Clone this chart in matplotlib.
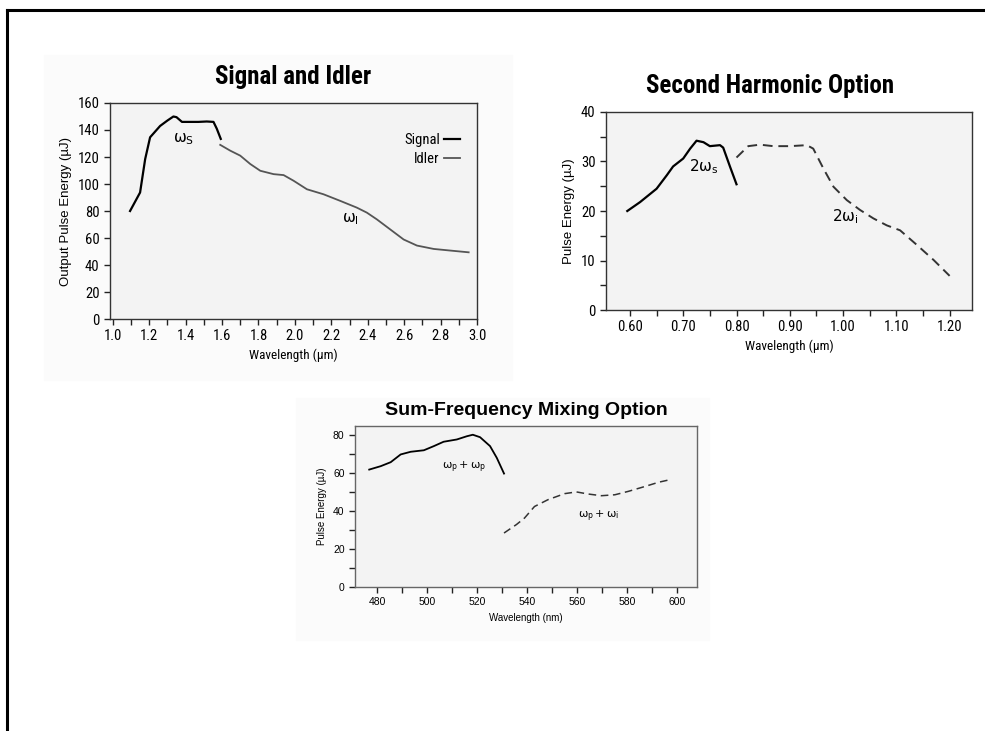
import numpy as np
import matplotlib
matplotlib.use("Agg")
import matplotlib.pyplot as plt
from matplotlib.lines import Line2D
from matplotlib.patches import Rectangle
from matplotlib.ticker import MultipleLocator, FormatStrFormatter
from matplotlib import font_manager

names = sorted({f.name for f in font_manager.fontManager.ttflist})
NARROW = [n for n in ['Liberation Sans Narrow', 'DejaVu Sans Condensed', 'Roboto Condensed',
                      'Open Sans Condensed', 'Liberation Sans'] if n in names][:1] + ['DejaVu Sans']
PLAIN = ['Liberation Sans', 'DejaVu Sans']
plt.rcParams['mathtext.default'] = 'regular'

# Signal and Idler (wavelength in um, energy in uJ)
signal_x = [1.095, 1.15, 1.178, 1.205, 1.26, 1.30, 1.333, 1.35, 1.38, 1.425, 1.47, 1.516, 1.553, 1.571, 1.593]
signal_y = [80, 93.7, 118.5, 134.6, 143, 147, 150, 149.5, 146, 146, 146, 146.3, 146, 141, 133.4]
idler_x = [1.59, 1.645, 1.70, 1.755, 1.81, 1.883, 1.938, 1.993, 2.066, 2.157, 2.249, 2.34, 2.395,
           2.45, 2.524, 2.597, 2.67, 2.762, 2.853, 2.954]
idler_y = [129, 124.7, 121, 114.8, 109.8, 107.3, 106.6, 102.4, 96.1, 92.4, 87.5, 82.5, 78.8,
           73.8, 66.3, 58.9, 54.4, 51.9, 50.7, 49.4]

# Second harmonic option
shg_s_x = [0.595, 0.619, 0.65, 0.669, 0.681, 0.70, 0.713, 0.725, 0.738, 0.75, 0.769, 0.775, 0.788, 0.80]
shg_s_y = [20.0, 21.8, 24.5, 27.2, 29.0, 30.6, 32.6, 34.2, 33.9, 33.1, 33.3, 32.8, 28.9, 25.4]
shg_i_x = [0.80, 0.822, 0.844, 0.869, 0.90, 0.932, 0.944, 0.963, 0.982, 1.007, 1.032, 1.057,
           1.082, 1.107, 1.139, 1.17, 1.20]
shg_i_y = [30.8, 33.1, 33.4, 33.1, 33.1, 33.3, 32.6, 28.6, 24.9, 22.2, 20.2, 18.5,
           17.1, 16.1, 13.1, 10.1, 6.9]

# Sum-frequency mixing option (wavelength in nm)
sfm_pp_x = [476.7, 481.3, 485.3, 489.3, 493.3, 498.6, 502.6, 506.5, 511.8, 515.8, 518.2, 521.1,
            525.1, 527.8, 530.7]
sfm_pp_y = [62.0, 63.8, 65.9, 70.0, 71.4, 72.2, 74.4, 76.7, 77.9, 79.6, 80.4, 79.1,
            74.4, 68.2, 59.9]
sfm_pi_x = [530.7, 535.7, 538.9, 542.9, 548.3, 555.0, 559.7, 564.4, 569.7, 575.1, 580.5,
            587.2, 592.6, 597.3]
sfm_pi_y = [28.5, 33.0, 36.4, 42.5, 46.1, 49.3, 50.2, 49.1, 48.2, 48.7, 50.5,
            53.1, 55.3, 56.7]

fig = plt.figure(figsize=(9.85, 7.31), dpi=100)
fig.patch.set_facecolor('white')

# faint scanned panel backgrounds and page frame
fig.add_artist(Rectangle((0.045, 0.48), 0.475, 0.445, transform=fig.transFigure,
                         color='#fbfbfb', zorder=-5))
fig.add_artist(Rectangle((0.30, 0.125), 0.42, 0.33, transform=fig.transFigure,
                         color='#fbfbfb', zorder=-5))
fig.add_artist(Line2D([0.007, 1.0], [0.986, 0.986], color='black', lw=2.2))
fig.add_artist(Line2D([0.007, 0.007], [0.0, 0.986], color='black', lw=2.2))


def style_axes(ax, tick_size, family):
    ax.set_facecolor('#f3f3f3')
    for s in ax.spines.values():
        s.set_color('#333333')
        s.set_linewidth(1.0)
    ax.tick_params(direction='out', length=4, width=1, labelsize=tick_size, color='#222222')
    for lab in ax.get_xticklabels() + ax.get_yticklabels():
        lab.set_family(family)


# ---- Signal and Idler ----
ax1 = fig.add_axes([0.1117, 0.5636, 0.3726, 0.2955])
ax1.plot(signal_x, signal_y, color='black', lw=1.6, label='Signal')
ax1.plot(idler_x, idler_y, color='#555555', lw=1.3, label='Idler')
ax1.set_xlim(0.985, 3.0)
ax1.set_ylim(0, 160)
ax1.xaxis.set_major_locator(MultipleLocator(0.2))
ax1.xaxis.set_minor_locator(MultipleLocator(0.1))
ax1.xaxis.set_major_formatter(FormatStrFormatter('%.1f'))
ax1.yaxis.set_major_locator(MultipleLocator(20))
ax1.tick_params(which='minor', direction='out', length=4, width=1, color='#222222')
style_axes(ax1, 10.5, NARROW)
ax1.set_xlabel('Wavelength (µm)', family=NARROW, fontsize=9.5)
ax1.set_ylabel('Output Pulse Energy (µJ)', family=PLAIN, fontsize=9.5)
ax1.set_title('Signal and Idler', family=NARROW, fontsize=18, fontweight='bold', pad=14)
ax1.text(1.388, 133, r'$\omega_S$', fontsize=11, ha='center', va='center')
ax1.text(2.304, 74, r'$\omega_I$', fontsize=11, ha='center', va='center')
leg = ax1.legend(loc='upper right', bbox_to_anchor=(0.99, 0.92), frameon=False,
                 markerfirst=False, handlelength=1.1, handletextpad=0.3, labelspacing=0.3,
                 prop={'family': NARROW, 'size': 10.5})

# ---- Second Harmonic Option ----
ax2 = fig.add_axes([0.6152, 0.5759, 0.3716, 0.2709])
ax2.plot(shg_s_x, shg_s_y, color='black', lw=1.6)
ax2.plot(shg_i_x, shg_i_y, color='#333333', lw=1.4, ls=(0, (5, 3)))
ax2.set_xlim(0.555, 1.242)
ax2.set_ylim(0, 40)
ax2.xaxis.set_major_locator(MultipleLocator(0.1))
ax2.xaxis.set_minor_locator(MultipleLocator(0.05))
ax2.xaxis.set_major_formatter(FormatStrFormatter('%.2f'))
ax2.yaxis.set_major_locator(MultipleLocator(10))
ax2.yaxis.set_minor_locator(MultipleLocator(5))
ax2.tick_params(which='minor', direction='out', length=4, width=1, color='#222222')
style_axes(ax2, 10.5, NARROW)
ax2.set_xlabel('Wavelength (µm)', family=NARROW, fontsize=9.5)
ax2.set_ylabel('Pulse Energy (µJ)', family=PLAIN, fontsize=9.5)
ax2.set_title('Second Harmonic Option', family=NARROW, fontsize=18, fontweight='bold',
              pad=14, x=0.448)
ax2.text(0.738, 28.9, r'$2\omega_s$', fontsize=11, ha='center', va='center')
ax2.text(1.004, 18.8, r'$2\omega_i$', fontsize=11, ha='center', va='center')

# ---- Sum-Frequency Mixing Option ----
ax3 = fig.add_axes([0.3604, 0.197, 0.3472, 0.2202])
ax3.plot(sfm_pp_x, sfm_pp_y, color='black', lw=1.3)
ax3.plot(sfm_pi_x, sfm_pi_y, color='#333333', lw=1.1, ls=(0, (5, 3)))
ax3.set_xlim(471, 608)
ax3.set_ylim(0, 85)
ax3.xaxis.set_major_locator(MultipleLocator(20))
ax3.xaxis.set_minor_locator(MultipleLocator(10))
ax3.yaxis.set_major_locator(MultipleLocator(20))
ax3.yaxis.set_minor_locator(MultipleLocator(10))
ax3.tick_params(which='minor', direction='out', length=4, width=1, color='#222222')
style_axes(ax3, 7.5, PLAIN)
for s in ax3.spines.values():
    s.set_color('#666666')
ax3.set_xlabel('Wavelength (nm)', family=PLAIN, fontsize=7)
ax3.set_ylabel('Pulse Energy (µJ)', family=PLAIN, fontsize=7)
ax3.set_title('Sum-Frequency Mixing Option', family=PLAIN, fontsize=14, fontweight='bold', pad=8)
ax3.text(514.6, 63, r'$\omega_p + \omega_p$', fontsize=8, ha='center', va='center')
ax3.text(568.4, 37.2, r'$\omega_p + \omega_i$', fontsize=8, ha='center', va='center')

fig.savefig('out.png', dpi=100)
